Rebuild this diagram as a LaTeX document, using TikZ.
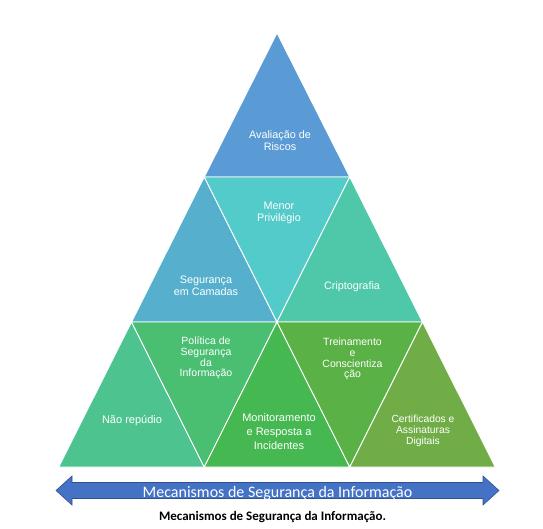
\documentclass[tikz,border=0pt]{standalone}
\usepackage{fontspec}
\setmainfont{Liberation Sans}
\newfontfamily\calibri{Carlito}
\begin{document}
\begin{tikzpicture}[x=1pt,y=-1pt,
  tri/.style={draw=white,line width=0.9pt,line join=round},
  lbl/.style={text=white,align=center,font=\fontsize{10.5}{11.5}\selectfont,inner sep=0pt},
]
\definecolor{cRisk}{HTML}{5B9BD5}
\definecolor{cCam}{HTML}{55AFCD}
\definecolor{cPriv}{HTML}{52CBCA}
\definecolor{cCrip}{HTML}{4FC8A9}
\definecolor{cRep}{HTML}{4DC48F}
\definecolor{cPol}{HTML}{4ABF72}
\definecolor{cMon}{HTML}{46B851}
\definecolor{cTre}{HTML}{5AB145}
\definecolor{cCert}{HTML}{70AD47}
\definecolor{arrFill}{HTML}{4472C4}
\definecolor{arrLine}{HTML}{2F528F}
\useasboundingbox (0,0) rectangle (543,529);

% lattice of the pyramid
\coordinate (A)  at (277,33);
\coordinate (B1) at (204.25,177);
\coordinate (B2) at (349.75,177);
\coordinate (C1) at (131.5,322);
\coordinate (C2) at (277,322);
\coordinate (C3) at (422.5,322);
\coordinate (D1) at (58.75,467);
\coordinate (D2) at (204.25,467);
\coordinate (D3) at (349.75,467);
\coordinate (D4) at (495.25,467);

% top row
\fill[cRisk,tri] (A) -- (B1) -- (B2) -- cycle;
% middle row
\fill[cCam,tri]  (B1) -- (C1) -- (C2) -- cycle;
\fill[cPriv,tri] (B1) -- (B2) -- (C2) -- cycle;
\fill[cCrip,tri] (B2) -- (C2) -- (C3) -- cycle;
% bottom row
\fill[cRep,tri]  (C1) -- (D1) -- (D2) -- cycle;
\fill[cPol,tri]  (C1) -- (C2) -- (D2) -- cycle;
\fill[cMon,tri]  (C2) -- (D2) -- (D3) -- cycle;
\fill[cTre,tri]  (C2) -- (C3) -- (D3) -- cycle;
\fill[cCert,tri] (C3) -- (D3) -- (D4) -- cycle;

% labels
\node[lbl,font=\fontsize{10.8}{12}\selectfont] (risk) at (280,141) {Avaliação de\\Riscos};
\node[lbl,font=\fontsize{10.8}{12}\selectfont] (priv) at (279,213) {Menor\\Privilégio};
\node[lbl,font=\fontsize{10.8}{12}\selectfont] (cam)  at (206,286) {Segurança\\em Camadas};
\node[lbl,font=\fontsize{10.8}{12}\selectfont] (crip) at (352,287) {Criptografia};
\node[lbl,font=\fontsize{10.5}{10.7}\selectfont] (pol) at (206,358) {Política de\\Segurança\\da\\Informação};
\node[lbl,font=\fontsize{11}{11.5}\selectfont] (rep) at (132,421) {Não repúdio};
\node[lbl,font=\fontsize{11}{14}\selectfont] (mon) at (279,432) {Monitoramento\\e Resposta a\\Incidentes};
\node[lbl,font=\fontsize{10.5}{10.8}\selectfont] (tre) at (352.5,359) {Treinamento\\e\\Conscientiza\\ção};
\node[lbl,font=\fontsize{10.3}{11.2}\selectfont] (cert) at (423,431) {Certificados e\\Assinaturas\\Digitais};

% double arrow under the pyramid
\draw[fill=arrFill,draw=arrLine,line width=0.6pt,line join=miter]
  (56,490.5) -- (72,476) -- (72,482.5) -- (483,482.5) -- (483,476)
  -- (499,490.5) -- (483,505) -- (483,498.5) -- (72,498.5) -- (72,505) -- cycle;
\node[anchor=base,text=white,font=\calibri\fontsize{16}{16}\selectfont,inner sep=0pt]
  (axis) at (277.5,497) {Mecanismos de Segurança da Informação};

% caption
\node[anchor=base,font=\calibri\bfseries\fontsize{13}{14}\selectfont,inner sep=0pt]
  (cap) at (272.5,520) {Mecanismos de Segurança da Informação.};
\end{tikzpicture}
\end{document}
